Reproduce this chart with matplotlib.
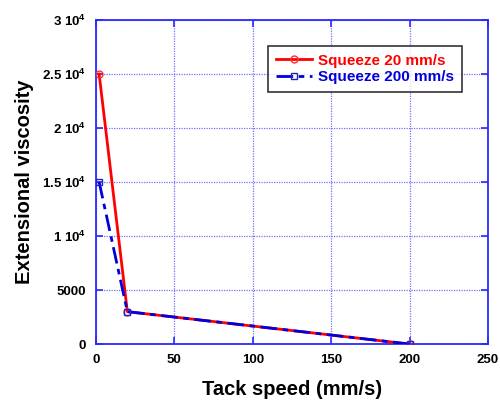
import matplotlib
matplotlib.use('Agg')
import matplotlib.pyplot as plt
from matplotlib.ticker import FixedLocator, FixedFormatter

plt.rcParams['font.family'] = ['Liberation Sans', 'DejaVu Sans']
plt.rcParams['font.weight'] = 'bold'
plt.rcParams['mathtext.fontset'] = 'custom'
plt.rcParams['mathtext.rm'] = 'Liberation Sans'
plt.rcParams['mathtext.default'] = 'rm'

# data
tack_speed = [2, 20, 200]
squeeze_20 = [25000, 3000, 0]
squeeze_200 = [15000, 3000, 0]

x_ticks = [0, 50, 100, 150, 200, 250]
y_ticks = [0, 5000, 10000, 15000, 20000, 25000, 30000]
y_labels = ['0', '5000', r'1 10$^{4}$', r'1.5 10$^{4}$', r'2 10$^{4}$', r'2.5 10$^{4}$', r'3 10$^{4}$']

axis_blue = '#2a2aff'

fig = plt.figure(figsize=(5, 4.01), dpi=100)
ax = fig.add_axes([0.192, 0.142, 0.784, 0.808])

ax.plot(tack_speed, squeeze_20, color='#ff0000', lw=2, marker='o', ms=5,
        mfc='none', mec='#ff3030', mew=1, label='Squeeze 20 mm/s', zorder=3)
ax.plot(tack_speed, squeeze_200, color='#0000dd', lw=2, ls=(0, (6, 2, 2, 2)),
        marker='s', ms=5, mfc='none', mec='#2222cc', mew=1,
        label='Squeeze 200 mm/s', zorder=4)

ax.set_xlim(0, 250)
ax.set_ylim(0, 30000)
ax.xaxis.set_major_locator(FixedLocator(x_ticks))
ax.yaxis.set_major_locator(FixedLocator(y_ticks))
ax.yaxis.set_major_formatter(FixedFormatter(y_labels))

ax.grid(True, color='#7070ff', ls=(0, (1, 1)), lw=0.9)
for s in ax.spines.values():
    s.set_color(axis_blue)
    s.set_linewidth(1.3)
ax.tick_params(direction='in', length=5, width=1.2, color=axis_blue,
               labelsize=9.5, pad=7, top=True, right=True)
for lab in ax.get_xticklabels() + ax.get_yticklabels():
    lab.set_fontweight('bold')

ax.set_xlabel('Tack speed (mm/s)', fontsize=14.5, fontweight='bold', labelpad=10)
ax.set_ylabel('Extensional viscosity', fontsize=14.5, fontweight='bold')
ax.yaxis.set_label_coords(-0.158, 0.5)

leg = ax.legend(loc='upper right', bbox_to_anchor=(0.934, 0.92), fontsize=11,
                frameon=True, fancybox=False, edgecolor='black',
                handlelength=2.4, borderpad=0.5, labelspacing=0.15,
                handletextpad=0.4, borderaxespad=0)
leg.get_frame().set_linewidth(1.2)
for txt, c in zip(leg.get_texts(), ['#ff0000', '#0000dd']):
    txt.set_color(c)
    txt.set_fontweight('bold')

fig.savefig('out.png', dpi=100)
